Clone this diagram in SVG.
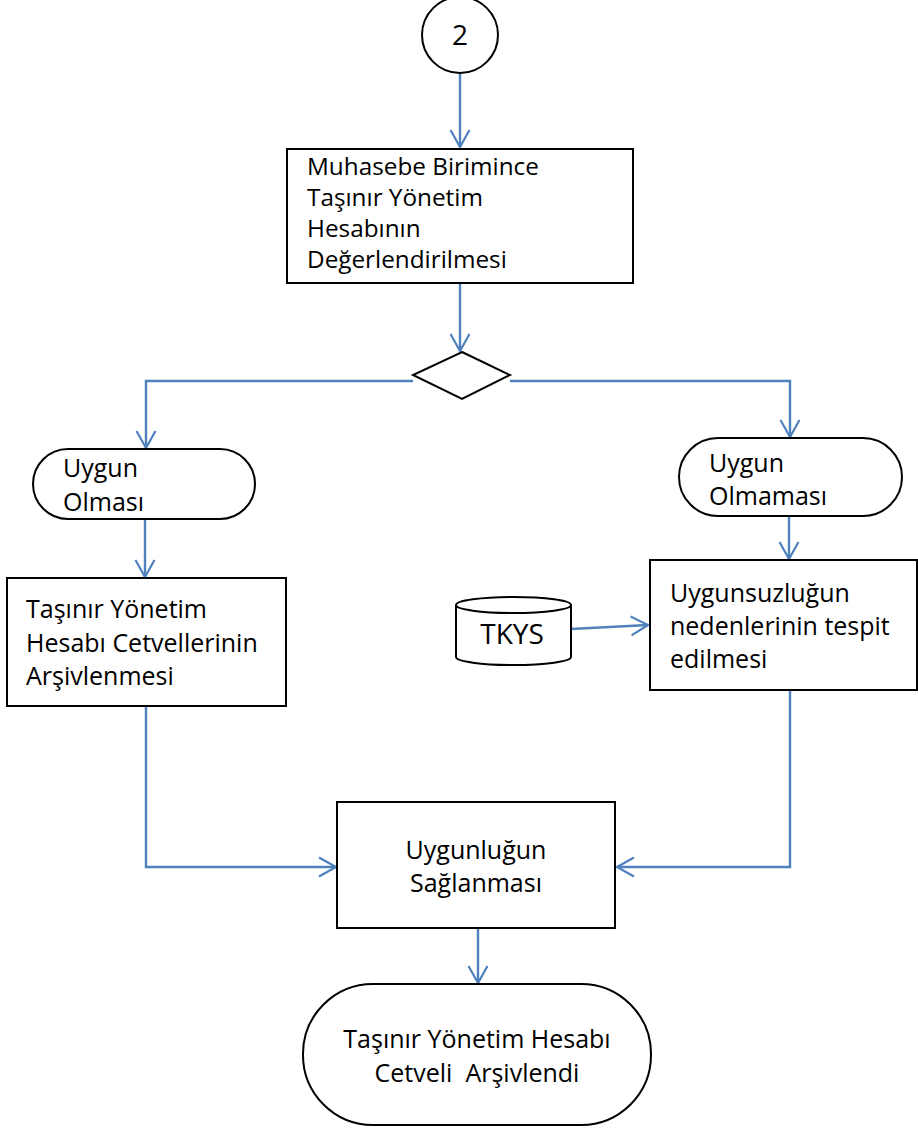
<svg xmlns="http://www.w3.org/2000/svg" width="918" height="1131" viewBox="0 0 918 1131">
<defs>
<marker id="ah" markerUnits="userSpaceOnUse" markerWidth="24" markerHeight="24" viewBox="-20 -12 24 24" refX="0" refY="0" orient="auto">
<path d="M-17,-9.5 L0,0 L-17,9.5" fill="none" stroke="#4F81BD" stroke-width="2.2"/>
</marker>
</defs>
<style>
.shape{fill:#fff;stroke:#000;stroke-width:2}
.conn{fill:none;stroke:#4F81BD;stroke-width:2.4;marker-end:url(#ah)}
text{font-family:"Open Sans","Liberation Sans",sans-serif;font-size:25px;fill:#000}
.c{text-anchor:middle}
</style>
<rect width="918" height="1131" fill="#fff"/>
<g id="connectors">
<path class="conn" d="M460,73 L460,147"/>
<path class="conn" d="M460,283 L460,351"/>
<path class="conn" d="M413,381 L146,381 L146,448"/>
<path class="conn" d="M510,381 L790,381 L790,437"/>
<path class="conn" d="M145,519 L145,577"/>
<path class="conn" d="M789,516 L789,559"/>
<path class="conn" d="M571,629 L648,625"/>
<path class="conn" d="M146,706 L146,867 L336,867"/>
<path class="conn" d="M790,690 L790,867 L617,867"/>
<path class="conn" d="M478,928 L478,983"/>
</g>
<g id="start">
<circle class="shape" cx="460" cy="35" r="38"/>
<text class="c" x="460" y="45" style="font-size:28px">2</text>
</g>
<g id="evaluate">
<rect class="shape" x="287" y="149" width="346" height="134"/>
<text x="307" y="175" style="font-size:24.3px">Muhasebe Birimince</text>
<text x="307" y="206" style="font-size:24.3px">Taşınır Yönetim</text>
<text x="307" y="237" style="font-size:24.3px">Hesabının</text>
<text x="307" y="268" style="font-size:24.3px">Değerlendirilmesi</text>
</g>
<g id="decision">
<polygon class="shape" points="462,352 510,375 462,399 413,375"/>
</g>
<g id="uygun">
<rect class="shape" x="33" y="449" width="222" height="70" rx="35"/>
<text x="63" y="477">Uygun</text>
<text x="63" y="511">Olması</text>
</g>
<g id="uygun-degil">
<rect class="shape" x="679" y="438" width="223" height="78" rx="39"/>
<text x="709" y="472">Uygun</text>
<text x="709" y="505">Olmaması</text>
</g>
<g id="arsiv">
<rect class="shape" x="7" y="578" width="279" height="128"/>
<text x="26" y="618">Taşınır Yönetim</text>
<text x="26" y="652">Hesabı Cetvellerinin</text>
<text x="26" y="685">Arşivlenmesi</text>
</g>
<g id="tkys">
<path class="shape" d="M456,605 L456,657 A57.5,8 0 0 0 571,657 L571,605"/>
<ellipse class="shape" cx="513.5" cy="605" rx="57.5" ry="8"/>
<text class="c" x="512" y="644" style="font-size:28px">TKYS</text>
</g>
<g id="tespit">
<rect class="shape" x="650" y="560" width="267" height="130"/>
<text x="670" y="602">Uygunsuzluğun</text>
<text x="670" y="635">nedenlerinin tespit</text>
<text x="670" y="668">edilmesi</text>
</g>
<g id="saglanma">
<rect class="shape" x="337" y="802" width="278" height="126"/>
<text class="c" x="476" y="859">Uygunluğun</text>
<text class="c" x="476" y="892">Sağlanması</text>
</g>
<g id="end">
<rect class="shape" x="303" y="984" width="348" height="141" rx="70"/>
<text class="c" x="477" y="1048">Taşınır Yönetim Hesabı</text>
<text class="c" x="477" y="1082" xml:space="preserve">Cetveli  Arşivlendi</text>
</g>
</svg>
